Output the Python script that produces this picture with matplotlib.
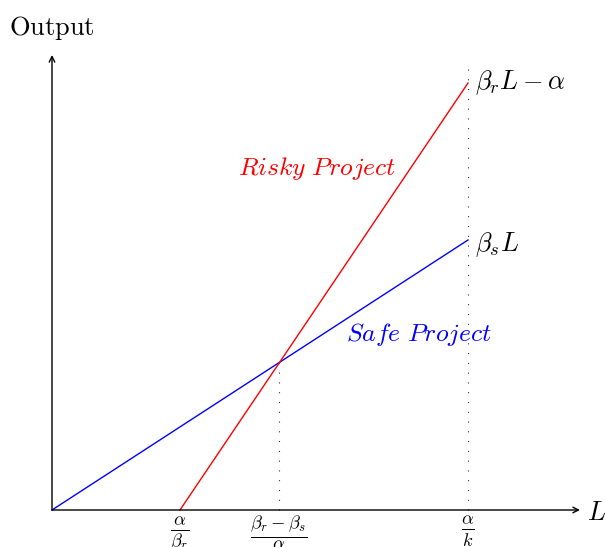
import matplotlib
matplotlib.use("Agg")
import matplotlib.pyplot as plt
import numpy as np

plt.rcParams['mathtext.fontset'] = 'cm'
plt.rcParams['font.family'] = ['DejaVu Serif']

# Key L positions (arbitrary units)
L_root = 1.28      # alpha / beta_r
L_cross = 2.27     # crossing point
L_end = 4.16       # alpha / k
# Output values
safe_end = 2.70    # beta_s L at L_end
risky_end = 4.27   # beta_r L - alpha at L_end
cross_out = 1.48   # output at crossing

safe_L = [0.0, L_end]
safe_Y = [0.0, safe_end]
risky_L = [L_root, L_end]
risky_Y = [0.0, risky_end]

tick_pos = [L_root, L_cross, L_end]
tick_labels = [r'$\frac{\alpha}{\beta_r}$', r'$\frac{\beta_r - \beta_s}{\alpha}$', r'$\frac{\alpha}{k}$']

fig = plt.figure(figsize=(6.05, 5.47), dpi=100)
ax = fig.add_axes([0, 0, 1, 1])
ax.set_xlim(-0.52, 5.53)
ax.set_ylim(-0.37, 5.10)
ax.axis('off')

# axes arrows
ax.annotate('', xy=(5.28, 0), xytext=(0, 0),
            arrowprops=dict(arrowstyle='->', lw=1.0, color='black', shrinkA=0, shrinkB=0))
ax.annotate('', xy=(0, 4.55), xytext=(0, 0),
            arrowprops=dict(arrowstyle='->', lw=1.0, color='black', shrinkA=0, shrinkB=0))

# dotted verticals
ax.plot([L_cross, L_cross], [0, cross_out], color='black', lw=0.8, linestyle=(0, (0.8, 8)))
ax.plot([L_end, L_end], [0, 4.45], color='black', lw=0.8, linestyle=(0, (0.8, 8)))

# lines
ax.plot(safe_L, safe_Y, color='blue', lw=1.0)
ax.plot(risky_L, risky_Y, color='red', lw=1.0)

fs = 19
ax.text(L_end + 0.07, risky_end, r'$\beta_r L - \alpha$', fontsize=fs, ha='left', va='center')
ax.text(L_end + 0.07, safe_end - 0.05, r'$\beta_s L$', fontsize=fs, ha='left', va='center')
ax.text(2.65, 3.42, r'$\mathit{Risky\ Project}$', fontsize=fs - 0.5, color='red', ha='center', va='center')
ax.text(3.67, 1.75, r'$\mathit{Safe\ Project}$', fontsize=fs - 0.5, color='blue', ha='center', va='center')
ax.text(5.45, -0.02, r'$L$', fontsize=fs, ha='center', va='center')
ax.text(0.0, 4.82, r'$\mathrm{Output}$', fontsize=fs, ha='center', va='center')

for p, lab in zip(tick_pos, tick_labels):
    ax.text(p, -0.04, lab, fontsize=fs, ha='center', va='top')

fig.savefig('out.png', dpi=100)
